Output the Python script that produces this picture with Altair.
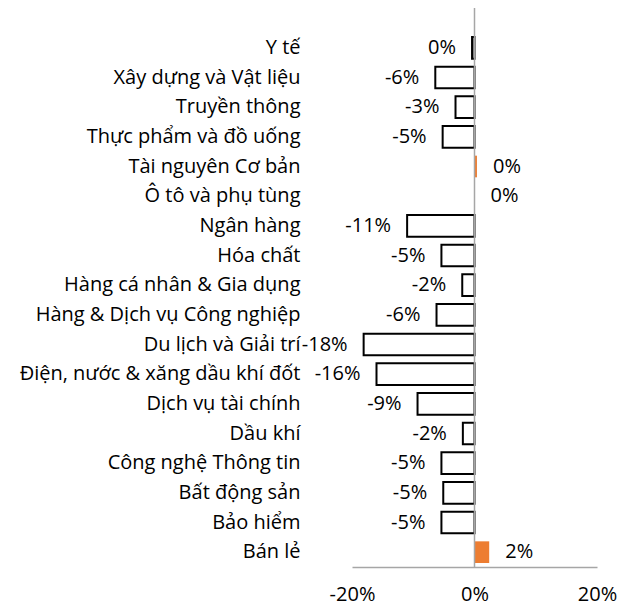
import altair as alt
import pandas as pd

categories = [
    "Y tế", "Xây dựng và Vật liệu", "Truyền thông", "Thực phẩm và đồ uống",
    "Tài nguyên Cơ bản", "Ô tô và phụ tùng", "Ngân hàng", "Hóa chất",
    "Hàng cá nhân & Gia dụng", "Hàng & Dịch vụ Công nghiệp", "Du lịch và Giải trí",
    "Điện, nước & xăng dầu khí đốt", "Dịch vụ tài chính", "Dầu khí",
    "Công nghệ Thông tin", "Bất động sản", "Bảo hiểm", "Bán lẻ",
]
values = [
    -0.004, -0.064, -0.031, -0.052,
    0.004, 0.0, -0.110, -0.054,
    -0.020, -0.062, -0.181,
    -0.160, -0.093, -0.019,
    -0.054, -0.051, -0.054, 0.024,
]

df = pd.DataFrame({"cat": categories, "val": values})
df["lbl"] = [f"{round(v * 100):.0f}%".replace("-0%", "0%") for v in values]

FONT = "Open Sans"
FS = 20
W, H = 245, 534

y_enc = alt.Y("cat:N", sort=categories,
              scale=alt.Scale(paddingInner=0.27, paddingOuter=0.135),
              axis=alt.Axis(title=None, domain=False, ticks=False, labelPadding=52,
                            labelFont=FONT, labelFontSize=FS, labelColor="#000000",
                            labelLimit=400))
x_scale = alt.Scale(domain=[-0.2, 0.2], nice=False)

bars = alt.Chart(df).mark_bar(strokeWidth=2).encode(
    x=alt.X("val:Q", scale=x_scale,
            axis=alt.Axis(title=None, values=[-0.2, 0, 0.2], grid=False,
                          labelExpr="datum.value < 0 ? '-' + format(-datum.value, '.0%') : format(datum.value, '.0%')",
                          ticks=False, domainColor="#A6A6A6", domainWidth=1.5,
                          labelFlush=False, labelOverlap=False,
                          labelFont=FONT, labelFontSize=FS, labelColor="#000000",
                          labelPadding=17)),
    x2=alt.datum(0),
    y=y_enc,
    fill=alt.condition("datum.val >= 0", alt.value("#ED7D31"), alt.value("#FFFFFF")),
    stroke=alt.condition("datum.val >= 0", alt.value("#ED7D31"), alt.value("#000000")),
    strokeWidth=alt.condition("datum.val >= 0", alt.value(0), alt.value(2)),
)

neg_labels = alt.Chart(df).transform_filter("datum.val < 0").mark_text(
    align="right", baseline="middle", dx=-16, font=FONT, fontSize=FS, color="#000000"
).encode(x=alt.X("val:Q", scale=x_scale), y=alt.Y("cat:N", sort=categories), text="lbl:N")

pos_labels = alt.Chart(df).transform_filter("datum.val >= 0").mark_text(
    align="left", baseline="middle", dx=16, font=FONT, fontSize=FS, color="#000000"
).encode(x=alt.X("val:Q", scale=x_scale), y=alt.Y("cat:N", sort=categories), text="lbl:N")

zero = alt.Chart(pd.DataFrame({"z": [0.0]})).mark_rule(color="#A6A6A6", strokeWidth=1.5).encode(
    x=alt.X("z:Q", scale=x_scale), y=alt.value(-28), y2=alt.value(H)
)

chart = alt.layer(bars, neg_labels, pos_labels, zero).properties(
    width=W, height=H,
    autosize=alt.AutoSizeParams(type="none"),
    padding={"left": 344, "top": 25, "right": 20, "bottom": 40},
).configure_view(stroke=None).configure_axis(labelFont=FONT)

chart.save("out.html", embed_options={"renderer": "svg", "actions": False})
